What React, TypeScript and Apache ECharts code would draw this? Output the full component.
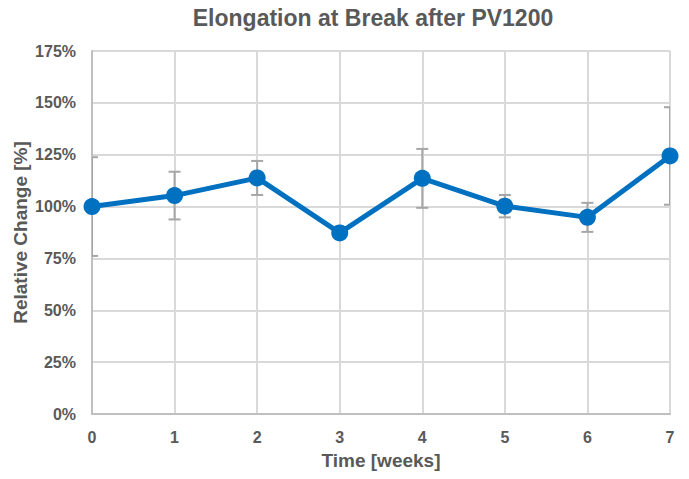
import React, { useEffect, useRef } from "react";
import * as echarts from "echarts";

const weeks = [0, 1, 2, 3, 4, 5, 6, 7];
const relChange = [100, 105.3, 113.8, 87.3, 113.6, 100.2, 94.8, 124.4];
const errPlus = [23.8, 11.5, 8.2, 1.0, 14.2, 5.4, 7.0, 23.5];
const errMinus = [23.8, 11.5, 8.2, 1.0, 14.2, 5.4, 7.0, 23.5];
const yTicks = [0, 25, 50, 75, 100, 125, 150, 175];

const FONT = "'Liberation Sans', Arial, sans-serif";
const TEXT = "#595959";

export default function App() {
  const ref = useRef<HTMLDivElement>(null);
  useEffect(() => {
    if (!ref.current) return;
    const chart = echarts.init(ref.current, null, { renderer: "svg" });
    const lineData = weeks.map((w, i) => [w, relChange[i]]);
    const errData = weeks.map((w, i) => [w, relChange[i] - errMinus[i], relChange[i] + errPlus[i]]);
    chart.setOption({
      animation: false,
      backgroundColor: "#ffffff",
      title: {
        text: "Elongation at Break after PV1200",
        left: 368,
        textAlign: "center",
        top: 1,
        textStyle: { fontFamily: FONT, fontSize: 23, fontWeight: "bold", color: TEXT },
      },
      grid: { left: 92, right: 19, top: 51, bottom: 65, containLabel: false, outerBoundsMode: "none" },
      xAxis: {
        type: "value",
        min: 0,
        max: 7,
        interval: 1,
        name: "Time [weeks]",
        nameLocation: "middle",
        nameGap: 37,
        nameMoveOverlap: false,
        nameTextStyle: { fontFamily: FONT, fontSize: 19, fontWeight: "bold", color: TEXT },
        axisLine: { show: true, lineStyle: { color: "#BFBFBF", width: 2 } },
        axisTick: { show: false },
        axisLabel: { fontFamily: FONT, fontSize: 16, fontWeight: "bold", color: TEXT, margin: 15 },
        splitLine: { show: true, lineStyle: { color: "#D9D9D9", width: 2 } },
      },
      yAxis: {
        type: "value",
        min: 0,
        max: 175,
        interval: 25,
        name: "Relative Change [%]",
        nameLocation: "middle",
        nameGap: 62,
        nameMoveOverlap: false,
        nameTextStyle: { fontFamily: FONT, fontSize: 19, fontWeight: "bold", color: TEXT },
        axisLine: { show: true, lineStyle: { color: "#BFBFBF", width: 2 } },
        axisTick: { show: false },
        axisLabel: {
          fontFamily: FONT,
          fontSize: 16,
          fontWeight: "bold",
          color: TEXT,
          margin: 16,
          formatter: (v: number) => (yTicks.includes(v) ? v + "%" : ""),
        },
        splitLine: { show: true, lineStyle: { color: "#D9D9D9", width: 2 } },
      },
      series: [
        {
          type: "custom",
          z: 1,
          clip: true,
          data: errData,
          renderItem: (params: any, api: any) => {
            const x = api.value(0);
            const lo = api.coord([x, api.value(1)]);
            const hi = api.coord([x, api.value(2)]);
            const cw = 6;
            const style = { stroke: "#A6A6A6", lineWidth: 2 };
            return {
              type: "group",
              children: [
                { type: "line", shape: { x1: hi[0], y1: hi[1], x2: lo[0], y2: lo[1] }, style },
                { type: "line", shape: { x1: hi[0] - cw, y1: hi[1], x2: hi[0] + cw, y2: hi[1] }, style },
                { type: "line", shape: { x1: lo[0] - cw, y1: lo[1], x2: lo[0] + cw, y2: lo[1] }, style },
              ],
            };
          },
        },
        {
          type: "line",
          z: 3,
          data: lineData,
          symbol: "circle",
          symbolSize: 17,
          lineStyle: { color: "#0070C0", width: 5 },
          itemStyle: { color: "#0070C0" },
        },
      ],
    });
    return () => chart.dispose();
  }, []);
  return <div ref={ref} style={{ position: "fixed", left: 0, top: 0, width: 689, height: 479 }} />;
}
